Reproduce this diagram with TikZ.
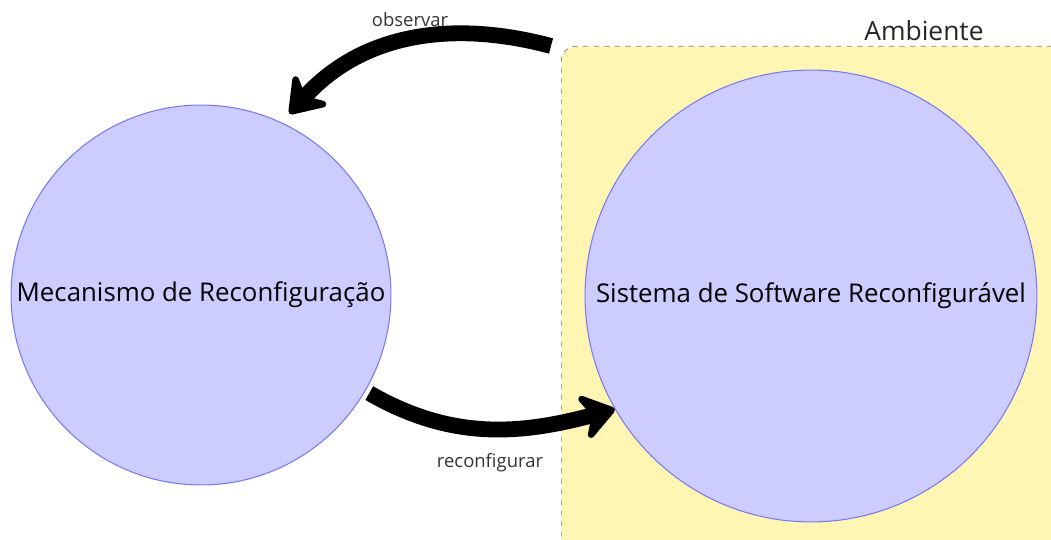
\documentclass[tikz,border=0pt]{standalone}
\usepackage{fontspec}
\setmainfont{Open Sans}
\usetikzlibrary{positioning, arrows.meta}

\definecolor{circfill}{HTML}{CCCCFF}
\definecolor{circdraw}{HTML}{7A7AF0}
\definecolor{envfill}{HTML}{FFF6B3}
\definecolor{labelgray}{HTML}{333333}

\begin{document}
\begin{tikzpicture}[
  x=0.02cm, y=-0.02cm,
  compcircle/.style={circle, draw=circdraw, fill=circfill, semithick, inner sep=0pt, font=\fontsize{14.7}{17}\selectfont},
  envbox/.style={draw=gray, dashed, fill=envfill, rounded corners=8pt, anchor=north west, minimum width=12cm, minimum height=12cm},
  arrowlabel/.style={text=labelgray, font=\fontsize{10.5}{12}\selectfont},
  bigarrow/.style={line width=9pt, -{Stealth[length=23pt, width=32pt, inset=8pt, round]}}
]
\useasboundingbox (0,0) rectangle (1051,540);

% environment box
\node[envbox] (ambiente) at (561,46) {};
\node[font=\fontsize{15}{18}\selectfont, text=black!85] (ambientelabel) at (924,31) {Ambiente};

% circles
\node[compcircle, minimum size=7.6cm] (mecanismo) at (201,295) {Mecanismo de Reconfiguração};
\node[compcircle, minimum size=9.04cm] (sistema) at (811,296) {Sistema de Software Reconfigurável};

% arrows
\coordinate (obsstart) at ([xshift=-0.2cm]ambiente.north west);
\draw[bigarrow] (obsstart) to[out=165, in=48] ([xshift=0.1cm, yshift=0.2cm]mecanismo.64);
\draw[bigarrow] ([xshift=0.1cm]mecanismo.-31) to[out=-30, in=195] (sistema.210);

% arrow labels
\node[arrowlabel] (observar) at (410,20) {observar};
\node[arrowlabel] (reconfigurar) at (490,463) {reconfigurar};

\end{tikzpicture}
\end{document}
